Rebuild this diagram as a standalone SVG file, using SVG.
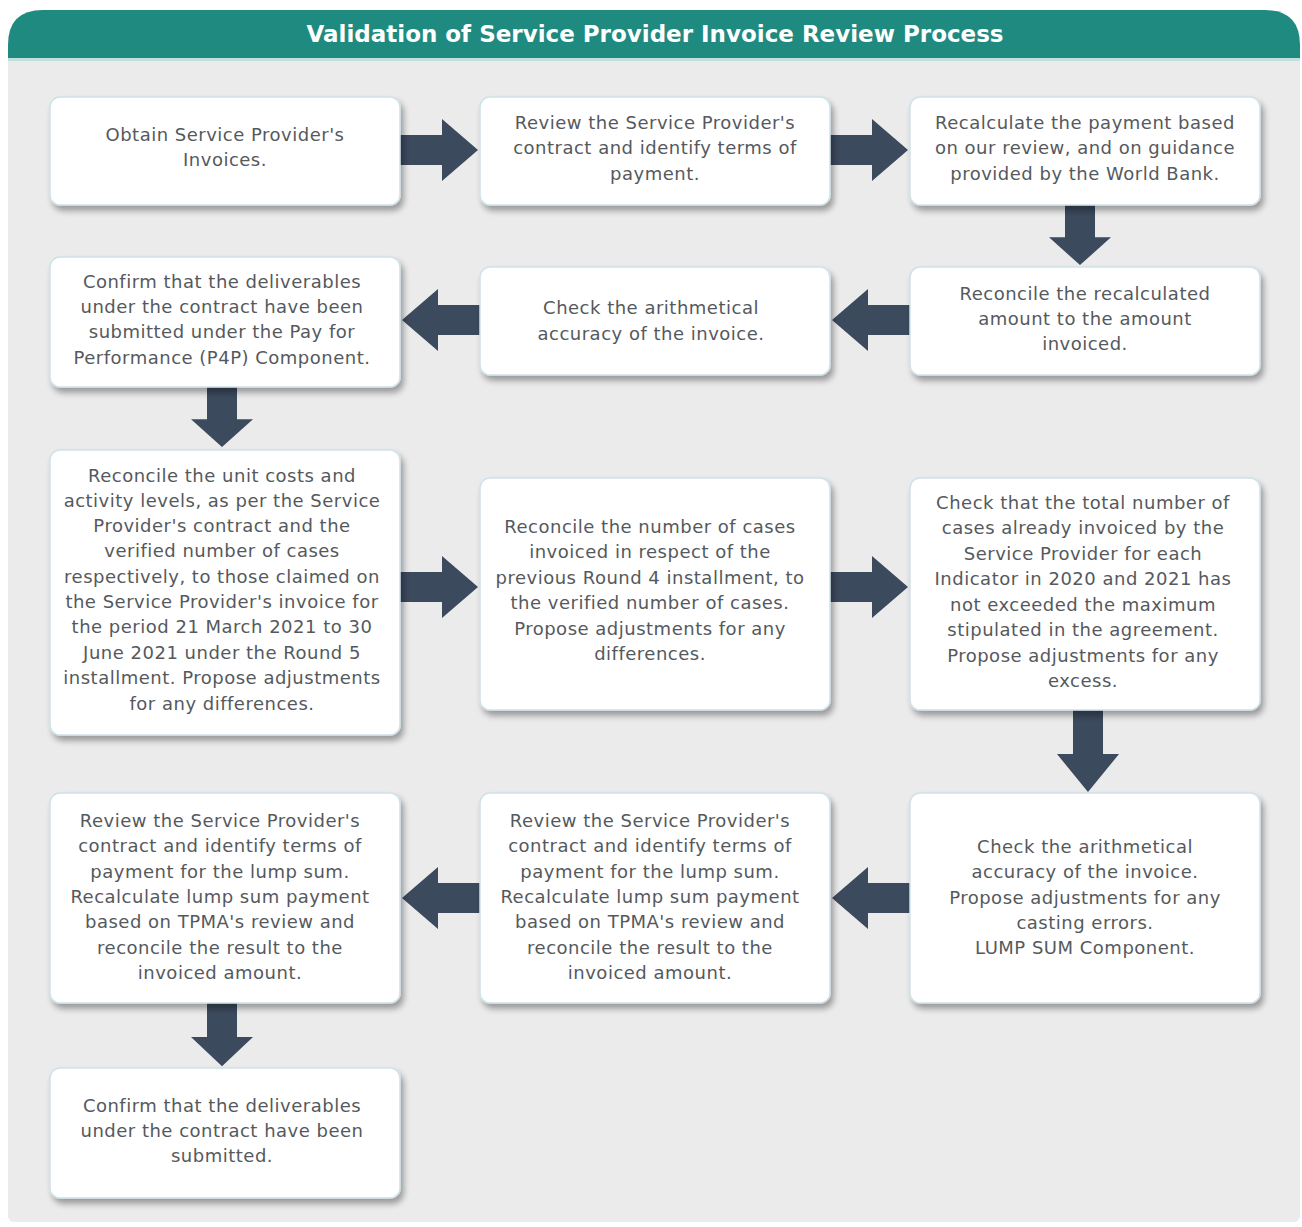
<svg xmlns="http://www.w3.org/2000/svg" width="1302" height="1227" viewBox="0 0 1302 1227">
<defs>
<style>
.box{fill:#ffffff;stroke:#cfe2ea;stroke-width:1.5;filter:url(#sh)}
.t{font-family:"DejaVu Sans","Liberation Sans",sans-serif;font-size:18px;letter-spacing:0.5px;fill:#55595d;text-anchor:middle}
.title{font-family:"DejaVu Sans","Liberation Sans",sans-serif;font-size:23px;font-weight:bold;fill:#ffffff;text-anchor:middle}
.arr{fill:#3c4a5e}
</style>
<filter id="sh" x="-10%" y="-10%" width="125%" height="130%">
<feGaussianBlur in="SourceAlpha" stdDeviation="3"/>
<feOffset dx="3" dy="5" result="b"/>
<feComponentTransfer><feFuncA type="linear" slope="0.35"/></feComponentTransfer>
<feMerge><feMergeNode/><feMergeNode in="SourceGraphic"/></feMerge>
</filter>
<path id="ar" d="M0,-15 H42 V-31 L78,0 L42,31 V15 H0 Z"/>
</defs>
<rect width="1302" height="1227" fill="#ffffff"/>
<rect x="8" y="50" width="1292" height="1172" rx="6" fill="#ebebeb"/>
<path d="M8,58 V45 Q8,10 43,10 H1265 Q1300,10 1300,45 V58 Z" fill="#1f8a7f"/>
<rect x="8" y="58" width="1292" height="3" fill="#bfe0dc"/>
<text class="title" x="655" y="42">Validation of Service Provider Invoice Review Process</text>

<g id="connectors">
<use href="#ar" class="arr" transform="translate(400,150)"/>
<use href="#ar" class="arr" transform="translate(830,150)"/>
<use href="#ar" class="arr" transform="translate(1080,205) rotate(90) scale(0.77,1)"/>
<use href="#ar" class="arr" transform="translate(910,320) rotate(180)"/>
<use href="#ar" class="arr" transform="translate(480,320) rotate(180)"/>
<use href="#ar" class="arr" transform="translate(222,387) rotate(90) scale(0.77,1)"/>
<use href="#ar" class="arr" transform="translate(400,587)"/>
<use href="#ar" class="arr" transform="translate(830,587)"/>
<use href="#ar" class="arr" transform="translate(1088,710) rotate(90) scale(1.05,1)"/>
<use href="#ar" class="arr" transform="translate(910,898) rotate(180)"/>
<use href="#ar" class="arr" transform="translate(480,898) rotate(180)"/>
<use href="#ar" class="arr" transform="translate(222,1003) rotate(90) scale(0.81,1)"/>
</g>

<g id="n1"><rect class="box" x="50" y="97" width="350" height="108" rx="10"/>
<text class="t" x="225" y="141">Obtain Service Provider's</text>
<text class="t" x="225" y="166">Invoices.</text></g>

<g id="n2"><rect class="box" x="480" y="97" width="350" height="108" rx="10"/>
<text class="t" x="655" y="129">Review the Service Provider's</text>
<text class="t" x="655" y="154">contract and identify terms of</text>
<text class="t" x="655" y="180">payment.</text></g>

<g id="n3"><rect class="box" x="910" y="97" width="350" height="108" rx="10"/>
<text class="t" x="1085" y="129">Recalculate the payment based</text>
<text class="t" x="1085" y="154">on our review, and on guidance</text>
<text class="t" x="1085" y="180">provided by the World Bank.</text></g>

<g id="n4"><rect class="box" x="910" y="267" width="350" height="108" rx="10"/>
<text class="t" x="1085" y="300">Reconcile the recalculated</text>
<text class="t" x="1085" y="325">amount to the amount</text>
<text class="t" x="1085" y="350">invoiced.</text></g>

<g id="n5"><rect class="box" x="480" y="267" width="350" height="108" rx="10"/>
<text class="t" x="651" y="314">Check the arithmetical</text>
<text class="t" x="651" y="340">accuracy of the invoice.</text></g>

<g id="n6"><rect class="box" x="50" y="257" width="350" height="130" rx="10"/>
<text class="t" x="222" y="288">Confirm that the deliverables</text>
<text class="t" x="222" y="313">under the contract have been</text>
<text class="t" x="222" y="338">submitted under the Pay for</text>
<text class="t" x="222" y="364">Performance (P4P) Component.</text></g>

<g id="n7"><rect class="box" x="50" y="450" width="350" height="285" rx="10"/>
<text class="t" x="222" y="482">Reconcile the unit costs and</text>
<text class="t" x="222" y="507">activity levels, as per the Service</text>
<text class="t" x="222" y="532">Provider's contract and the</text>
<text class="t" x="222" y="557">verified number of cases</text>
<text class="t" x="222" y="583">respectively, to those claimed on</text>
<text class="t" x="222" y="608">the Service Provider's invoice for</text>
<text class="t" x="222" y="633">the period 21 March 2021 to 30</text>
<text class="t" x="222" y="659">June 2021 under the Round 5</text>
<text class="t" x="222" y="684">installment. Propose adjustments</text>
<text class="t" x="222" y="710">for any differences.</text></g>

<g id="n8"><rect class="box" x="480" y="478" width="350" height="232" rx="10"/>
<text class="t" x="650" y="533">Reconcile the number of cases</text>
<text class="t" x="650" y="558">invoiced in respect of the</text>
<text class="t" x="650" y="584">previous Round 4 installment, to</text>
<text class="t" x="650" y="609">the verified number of cases.</text>
<text class="t" x="650" y="635">Propose adjustments for any</text>
<text class="t" x="650" y="660">differences.</text></g>

<g id="n9"><rect class="box" x="910" y="478" width="350" height="232" rx="10"/>
<text class="t" x="1083" y="509">Check that the total number of</text>
<text class="t" x="1083" y="534">cases already invoiced by the</text>
<text class="t" x="1083" y="560">Service Provider for each</text>
<text class="t" x="1083" y="585">Indicator in 2020 and 2021 has</text>
<text class="t" x="1083" y="611">not exceeded the maximum</text>
<text class="t" x="1083" y="636">stipulated in the agreement.</text>
<text class="t" x="1083" y="662">Propose adjustments for any</text>
<text class="t" x="1083" y="687">excess.</text></g>

<g id="n10"><rect class="box" x="910" y="793" width="350" height="210" rx="10"/>
<text class="t" x="1085" y="853">Check the arithmetical</text>
<text class="t" x="1085" y="878">accuracy of the invoice.</text>
<text class="t" x="1085" y="904">Propose adjustments for any</text>
<text class="t" x="1085" y="929">casting errors.</text>
<text class="t" x="1085" y="954">LUMP SUM Component.</text></g>

<g id="n11"><rect class="box" x="480" y="793" width="350" height="210" rx="10"/>
<text class="t" x="650" y="827">Review the Service Provider's</text>
<text class="t" x="650" y="852">contract and identify terms of</text>
<text class="t" x="650" y="878">payment for the lump sum.</text>
<text class="t" x="650" y="903">Recalculate lump sum payment</text>
<text class="t" x="650" y="928">based on TPMA's review and</text>
<text class="t" x="650" y="954">reconcile the result to the</text>
<text class="t" x="650" y="979">invoiced amount.</text></g>

<g id="n12"><rect class="box" x="50" y="793" width="350" height="210" rx="10"/>
<text class="t" x="220" y="827">Review the Service Provider's</text>
<text class="t" x="220" y="852">contract and identify terms of</text>
<text class="t" x="220" y="878">payment for the lump sum.</text>
<text class="t" x="220" y="903">Recalculate lump sum payment</text>
<text class="t" x="220" y="928">based on TPMA's review and</text>
<text class="t" x="220" y="954">reconcile the result to the</text>
<text class="t" x="220" y="979">invoiced amount.</text></g>

<g id="n13"><rect class="box" x="50" y="1068" width="350" height="130" rx="10"/>
<text class="t" x="222" y="1112">Confirm that the deliverables</text>
<text class="t" x="222" y="1137">under the contract have been</text>
<text class="t" x="222" y="1162">submitted.</text></g>
</svg>
